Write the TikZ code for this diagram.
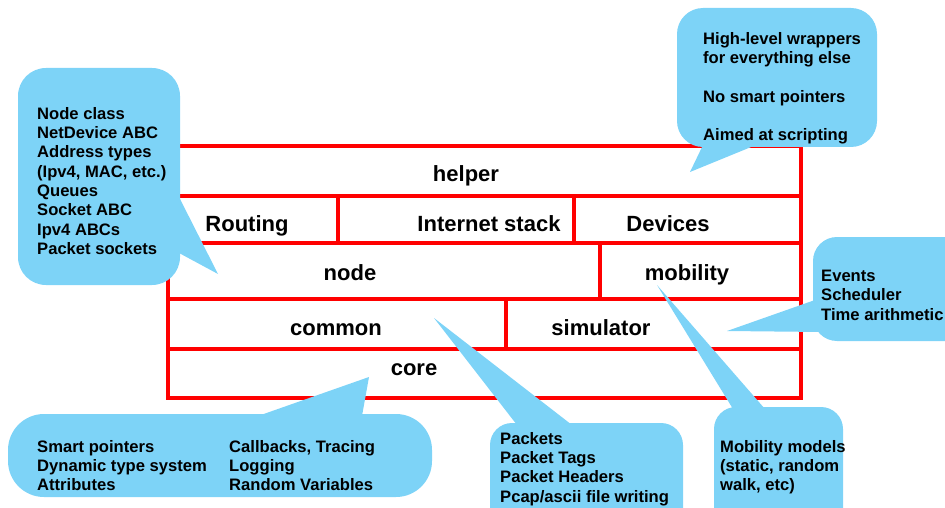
\documentclass[tikz,border=0pt]{standalone}
\usepackage{fontspec}
\setmainfont{Liberation Sans}
\definecolor{bubbleblue}{RGB}{125,211,247}
\begin{document}
\begin{tikzpicture}[x=1pt, y=-1pt,
    layer/.style={red, line width=3.2pt},
    layername/.style={font=\fontsize{22}{26}\selectfont\bfseries, anchor=base, inner sep=0pt},
    bubble/.style={fill=bubbleblue},
    bubbletext/.style={font=\fontsize{16.6}{19.3}\selectfont\bfseries, align=left, anchor=north west, inner sep=0pt}]
    \useasboundingbox (0,0) rectangle (945,508);

    % outline of the module stack and the rows
    \draw[layer] (168,146) rectangle (801,398);
    \foreach \y in {196,243,299,349}
        \draw[layer] (168,\y) -- (801,\y);
    % cell walls inside the rows
    \draw[layer] (338,196) -- (338,243);
    \draw[layer] (574,196) -- (574,243);
    \draw[layer] (600,243) -- (600,299);
    \draw[layer] (506,299) -- (506,349);

    % module names
    \node[layername] (helper) at (466,182) {helper};
    \node[layername] (routing) at (247,231) {Routing};
    \node[layername] (internet) at (489,231) {Internet stack};
    \node[layername] (devices) at (668,231) {Devices};
    \node[layername] (node) at (350,280) {node};
    \node[layername] (mobility) at (687,280) {mobility};
    \node[layername] (common) at (336,335) {common};
    \node[layername] (simulator) at (601,335) {simulator};
    \node[layername] (core) at (414,375) {core};

    % callout for node
    \fill[bubble, rounded corners=28pt] (18,68) rectangle (180,285);
    \fill[bubble] (179,197) -- (218,274) -- (179,253) -- cycle;
    \node[bubbletext] (nodenote) at (37,107) {Node class\\NetDevice ABC\\Address types\\(Ipv4, MAC, etc.)\\Queues\\Socket ABC\\Ipv4 ABCs\\Packet sockets};

    % callout for helper
    \fill[bubble, rounded corners=26pt] (677,8) rectangle (877,147);
    \fill[bubble] (703,145) -- (690,172) -- (756,145) -- cycle;
    \node[bubbletext] (helpernote) at (703,32) {High-level wrappers\\for everything else\\[19.3pt]No smart pointers\\[19.3pt]Aimed at scripting};

    % callout for simulator
    \fill[bubble, rounded corners=24pt] (813,237) rectangle (975,341);
    \fill[bubble] (815,300) -- (727,331) -- (822,332) -- cycle;
    \node[bubbletext] (simnote) at (821,270) {Events\\Scheduler\\Time arithmetic};

    % callout for core
    \fill[bubble, rounded corners=36pt] (8,414) rectangle (432,497);
    \fill[bubble] (258,416) -- (369,377) -- (362,416) -- cycle;
    \node[bubbletext] (corenote) at (37,440) {Smart pointers\\Dynamic type system\\Attributes};
    \node[bubbletext] (corenotetwo) at (229,440) {Callbacks, Tracing\\Logging\\Random Variables};

    % callout for common
    \fill[bubble, rounded corners=22pt] (490,423) rectangle (683,530);
    \fill[bubble] (517,425) -- (434,318) -- (572,425) -- cycle;
    \node[bubbletext] (commonnote) at (500,432) {Packets\\Packet Tags\\Packet Headers\\Pcap/ascii file writing};

    % callout for mobility
    \fill[bubble, rounded corners=22pt] (714,407) rectangle (843,530);
    \fill[bubble] (733,409) -- (657,285) -- (765,409) -- cycle;
    \node[bubbletext] (mobilitynote) at (720,440) {Mobility models\\(static, random\\walk, etc)};

\end{tikzpicture}
\end{document}
